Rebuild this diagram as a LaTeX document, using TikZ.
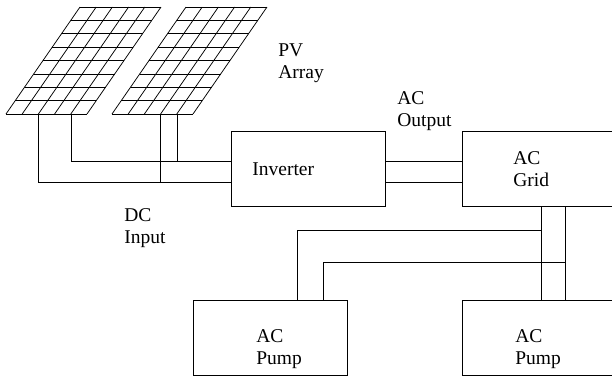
\documentclass[tikz,border=0pt]{standalone}
\usepackage{fontspec}
\setmainfont{Liberation Serif}
\tikzset{
  box/.style={draw,rectangle,anchor=north west,inner sep=0pt,outer sep=0pt,minimum height=75pt},
  lbl/.style={anchor=north west,align=left,inner sep=0pt,font=\fontsize{19.5}{22}\selectfont},
  wire/.style={line width=0.75pt}
}
\begin{document}
\begin{tikzpicture}[x=1pt,y=-1pt,line width=0.75pt]
    \useasboundingbox (0,0) rectangle (612,376);
    \clip (0,0) rectangle (612,376);
    % panels
    \foreach \dx in {0,106} {
        \foreach \i in {0,...,8}
            \draw ({80+\dx-\i*9.25},{7+\i*13.375}) -- ++(81,0);
        \foreach \i in {0,...,5}
            \draw ({6+\dx+\i*16.2},114) -- ({80+\dx+\i*16.2},7);
    }
    \node[box,minimum width=154pt] (inverter) at (231,131) {};
    \node[box,minimum width=180pt] (grid) at (462,131) {};
    \node[box,minimum width=154pt] (pump1) at (193,300) {};
    \node[box,minimum width=180pt] (pump2) at (462,300) {};
    \coordinate (a) at (38,114);
    \coordinate (b) at (71,114);
    \coordinate (c) at (160.5,114);
    \coordinate (d) at (177,114);
    \coordinate (e) at (inverter.north west |- 0,161);
    \coordinate (f) at (inverter.north west |- 0,182);
    \coordinate (g) at (grid.north west |- 0,161);
    \coordinate (h) at (grid.north west |- 0,182);
    \coordinate (i) at (inverter.north east |- 0,161);
    \coordinate (j) at (inverter.north east |- 0,182);
    \coordinate (k) at (541,206);
    \coordinate (l) at (565,206);
    \coordinate (m) at (541,300);
    \coordinate (n) at (565,300);
    \coordinate (o) at (297,300);
    \coordinate (p) at (323,300);
    \coordinate (q) at (541,230);
    \coordinate (r) at (565,262);
    \draw[wire] (a) |- (f);
    \draw[wire] (b) |- (e);
    \draw[wire] (c) -- (c |- f);
    \draw[wire] (d) -- (d |- e);
    \draw[wire] (i) -- (g);
    \draw[wire] (j) -- (h);
    \draw[wire] (k) -- (m);
    \draw[wire] (l) -- (n);
    \draw[wire] (o) |- (q);
    \draw[wire] (p) |- (r);
    \node[lbl] (pv) at (278,43) {PV\\Array};
    \node[lbl] (output) at (397,91) {AC\\Output};
    \node[lbl] (inv) at (252,162) {Inverter};
    \node[lbl] (gridtext) at (513,151) {AC\\Grid};
    \node[lbl] (dc) at (124,208) {DC\\Input};
    \node[lbl] (pumptext1) at (256,329) {AC\\Pump};
    \node[lbl] (pumptext2) at (515,329) {AC\\Pump};
\end{tikzpicture}
\end{document}
